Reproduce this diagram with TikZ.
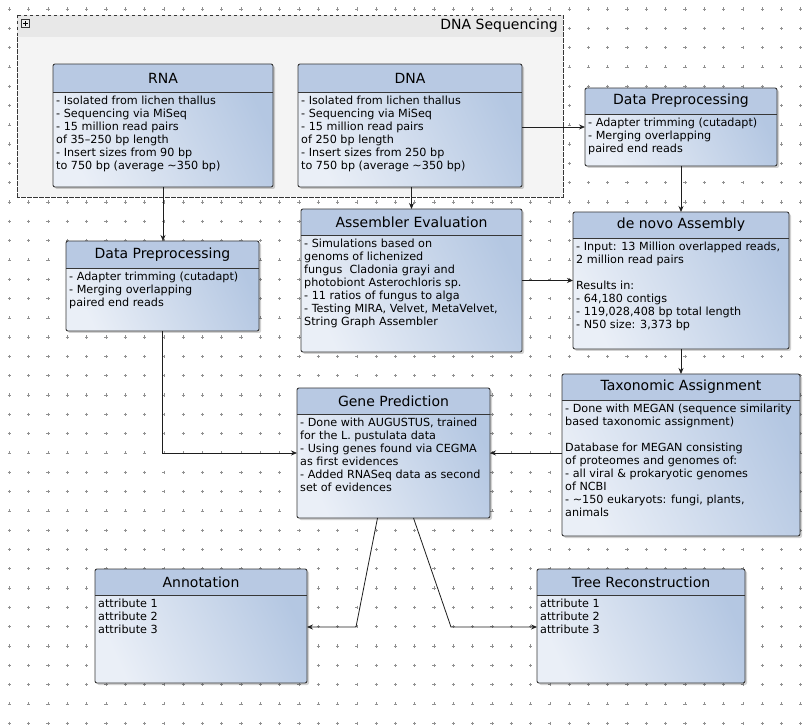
\documentclass[tikz,border=0pt]{standalone}
\usepackage{fontspec}
\setmainfont{DejaVu Sans}
\usetikzlibrary{calc,arrows.meta}
\definecolor{hdrblue}{RGB}{184,201,227}
\definecolor{bodylight}{RGB}{234,239,247}
\definecolor{bodydark}{RGB}{180,199,226}
\definecolor{bordercol}{RGB}{55,55,55}
\definecolor{gridcol}{RGB}{145,145,145}
\definecolor{grpfill}{RGB}{244,244,244}
\definecolor{grphdr}{RGB}{232,232,232}
\definecolor{conncol}{RGB}{30,30,30}
\tikzset{
  boxshape/.style={inner sep=0pt, outer sep=0pt, rounded corners=2pt,
    left color=bodylight, right color=bodydark, shading angle=115},
  boxline/.style={draw=bordercol, line width=0.9pt},
  boxshadow/.style={fill=black, opacity=0.18},
  titletext/.style={inner sep=0pt, font=\fontsize{14}{16}\selectfont},
  bodytext/.style={inner sep=0pt, align=left, font=\fontsize{11.2}{13}\selectfont},
  conn/.style={draw=conncol, line width=0.8pt, -{Stealth[length=6pt,width=5pt]}},
  gridplus/.style={draw=gridcol, line width=0.5pt},
  grpbox/.style={draw=bordercol, dashed, line width=0.7pt, fill=grpfill},
}
\newcommand\umlbox[8]{%
  \fill[boxshadow, rounded corners=2pt] (#2+2,#3+2) rectangle ++(#4,#5);
  \node[boxshape, minimum width=#4pt, minimum height=#5pt, anchor=north west] (#1) at (#2,#3) {};
  \begin{scope}
    \clip[rounded corners=2pt] (#1.north west) rectangle (#1.south east);
    \fill[hdrblue] (#1.north west) rectangle ($(#1.north east)+(0,#6)$);
  \end{scope}
  \draw[boxline] ($(#1.north west)+(0,#6)$) -- ($(#1.north east)+(0,#6)$);
  \draw[boxline, rounded corners=2pt] (#1.north west) rectangle (#1.south east);
  \node[titletext] (#1-title) at ($(#1.north)+(0,#6/2)$) {#7};
  \node[bodytext, anchor=north west] (#1-body) at ($(#1.north west)+(3,#6+4)$) {#8};
}
\begin{document}
\begin{tikzpicture}[x=1pt,y=-1pt]
\useasboundingbox[fill=white] (0,0) rectangle (812,727);
% grid
\draw[gridplus] \foreach \i in {0,...,41} { \foreach \j in {0,...,37} {
  ({9.4+19.3*\i-1.6},{9+19.3*\j}) -- ({9.4+19.3*\i+1.6},{9+19.3*\j})
  ({9.4+19.3*\i},{9+19.3*\j-1.6}) -- ({9.4+19.3*\i},{9+19.3*\j+1.6}) } };
% group
\node[grpbox, inner sep=0pt, outer sep=0pt, minimum width=546pt, minimum height=182pt, anchor=north west] (grp) at (17,15) {};
\fill[grphdr] ($(grp.north west)+(0.4,0.4)$) rectangle ($(grp.north east)+(-0.4,22)$);
\draw[bordercol, dashed, line width=0.7pt] (grp.north west) rectangle (grp.south east);
\node[titletext, anchor=east] (grp-title) at ($(grp.north east)+(-5,11)$) {DNA Sequencing};
\node[draw=bordercol, fill=grphdr!70!white, line width=0.6pt, minimum size=8pt, inner sep=0pt, anchor=north west] (grp-icon) at ($(grp.north west)+(4,4)$) {};
\draw[black, line width=0.9pt] ($(grp-icon.center)+(-2.5,0)$) -- ($(grp-icon.center)+(2.5,0)$)
  ($(grp-icon.center)+(0,-2.5)$) -- ($(grp-icon.center)+(0,2.5)$);
% boxes
\umlbox{rna}{53}{64}{220}{123}{28}{RNA}{- Isolated from lichen thallus\\- Sequencing via MiSeq\\- 15 million read pairs\\of 35--250 bp length\\- Insert sizes from 90 bp\\to 750 bp (average \textasciitilde350 bp)}
\umlbox{dna}{298}{64}{224}{123}{28}{DNA}{- Isolated from lichen thallus\\- Sequencing via MiSeq\\- 15 million read pairs\\of 250 bp length\\- Insert sizes from 250 bp\\to 750 bp (average \textasciitilde350 bp)}
\umlbox{dpr}{585}{88}{192}{78}{26}{Data Preprocessing}{- Adapter trimming (cutadapt)\\- Merging overlapping\\paired end reads}
\umlbox{ae}{301}{209}{221}{143}{26}{Assembler Evaluation}{- Simulations based on\\genoms of lichenized\\fungus\ \ Cladonia grayi and\\photobiont Asterochloris sp.\\- 11 ratios of fungus to alga\\- Testing MIRA, Velvet, MetaVelvet,\\String Graph Assembler}
\umlbox{dn}{573}{212}{216}{137}{26}{de novo Assembly}{- Input: 13 Million overlapped reads,\\2 million read pairs\\[13pt]Results in:\\- 64,180 contigs\\- 119,028,408 bp total length\\- N50 size: 3,373 bp}
\umlbox{dpl}{66}{241}{193}{90}{27}{Data Preprocessing}{- Adapter trimming (cutadapt)\\- Merging overlapping\\paired end reads}
\umlbox{gp}{297}{388}{193}{130}{26}{Gene Prediction}{- Done with AUGUSTUS, trained\\for the L. pustulata data\\- Using genes found via CEGMA\\as first evidences\\- Added RNASeq data as second\\set of evidences}
\umlbox{tax}{562}{374}{238}{162}{26}{Taxonomic Assignment}{- Done with MEGAN (sequence similarity\\based taxonomic assignment)\\[13pt]Database for MEGAN consisting\\of proteomes and genomes of:\\- all viral \& prokaryotic genomes\\of NCBI\\- \textasciitilde150 eukaryots: fungi, plants,\\animals}
\umlbox{ann}{95}{569}{212}{114}{26}{Annotation}{attribute 1\\attribute 2\\attribute 3}
\umlbox{tree}{537}{569}{208}{114}{26}{Tree Reconstruction}{attribute 1\\attribute 2\\attribute 3}
% connectors
\draw[conn] (rna.south) -- (rna.south |- dpl.north);
\draw[conn] (ae.north |- dna.south) -- (ae.north);
\draw[conn] (dna.east |- dpr.west) -- (dpr.west);
\draw[conn] (dpr.south) -- (dpr.south |- dn.north);
\draw[conn] (ae.east) -- (ae.east -| dn.west);
\draw[conn] (dn.south) -- (dn.south |- tax.north);
\draw[conn] (dpl.south) |- (gp.west);
\draw[conn] (tax.west |- gp.east) -- (gp.east);
\coordinate (bendl) at (356,627);
\coordinate (bendr) at (451,627);
\coordinate (gpl) at ($(gp.south)+(-16,0)$);
\coordinate (gpr) at ($(gp.south)+(20,0)$);
\draw[conn] (gpl) -- (bendl) -- (bendl -| ann.east);
\draw[conn] (gpr) -- (bendr) -- (bendr -| tree.west);
\end{tikzpicture}
\end{document}
